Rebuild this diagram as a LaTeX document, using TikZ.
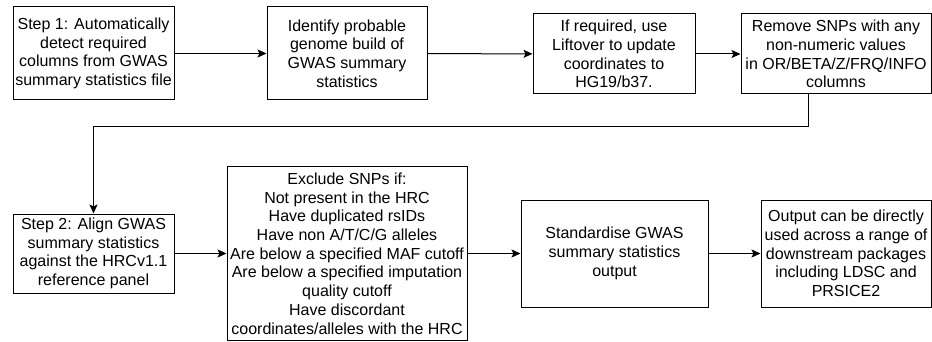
\documentclass[tikz,border=0pt]{standalone}
\usepackage{fontspec}
\setmainfont{Liberation Sans}
\usetikzlibrary{arrows.meta}

\begin{document}
\begin{tikzpicture}[x=1pt, y=-1pt,
stepbox/.style={draw, line width=1pt, align=center, inner sep=0pt, font=\fontsize{16}{18.7}\selectfont},
flow/.style={line width=1pt, -{Stealth[length=9pt, width=8pt, inset=2pt]}}]
\tikzstyle{wide}=[minimum width=240pt]
\useasboundingbox (0,0) rectangle (932,342);
%top row
\node[stepbox, minimum width=161pt, minimum height=93pt] (detect) at (93.5,53.5)
  {Step 1: Automatically\\detect required\\columns from GWAS\\summary statistics file};
\node[stepbox, minimum width=160pt, minimum height=93pt] (build) at (347,53.5)
  {Identify probable\\genome build of\\GWAS summary\\statistics};
\node[stepbox, minimum width=162pt, minimum height=80pt] (liftover) at (614,54)
  {If required, use\\Liftover to update\\coordinates to\\HG19/b37.};
\node[stepbox, minimum width=190pt, minimum height=80pt] (remove) at (836,54)
  {Remove SNPs with any\\non-numeric values\\in OR/BETA/Z/FRQ/INFO\\columns};
%bottom row
\node[stepbox, minimum width=161pt, minimum height=79pt] (align) at (93.5,253.5)
  {Step 2: Align GWAS\\summary statistics\\against the HRCv1.1\\reference panel};
\node[stepbox, wide, minimum height=173pt] (exclude) at (347,253.5)
  {Exclude SNPs if:\\Not present in the HRC\\Have duplicated rsIDs\\Have non A/T/C/G alleles\\Are below a specified MAF cutoff\\Are below a specified imputation\\quality cutoff\\Have discordant\\coordinates/alleles with the HRC};
\node[stepbox, minimum width=187pt, minimum height=107pt] (standard) at (614.5,253.5)
  {Standardise GWAS\\summary statistics\\output};
\node[stepbox, minimum width=170pt, minimum height=107pt] (output) at (846,253.5)
  {Output can be directly\\used across a range of\\downstream packages\\including LDSC and\\PRSICE2};
%connectors
\coordinate (turn) at (808,127);
\draw[flow] (detect) -- (build);
\draw[flow] (build) -- (liftover);
\draw[flow] (liftover) -- (remove);
\draw[flow] (remove.south -| turn) -- (turn) -| (align.north);
\draw[flow] (align) -- (exclude);
\draw[flow] (exclude) -- (standard);
\draw[flow] (standard) -- (output);
\end{tikzpicture}
\end{document}
